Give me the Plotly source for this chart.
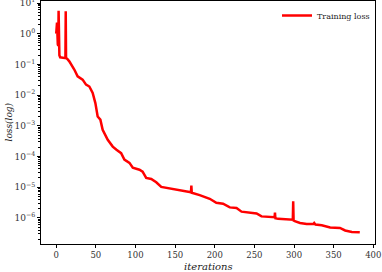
import plotly.graph_objects as go

# iteration positions and training loss values
iterations = [0, 1, 2, 2.6, 3, 3.4, 4, 5, 7, 9, 11, 11.6, 12, 12.4, 14,
              16.5, 22.8, 27, 33.3, 37.6, 41.8, 46, 49.4, 52.3, 55.7, 58.6,
              65, 71.3, 76, 81.9, 86, 92.4, 96.6, 105, 109, 113.5, 119.9,
              126.2, 132.5, 143, 151.5, 160, 168, 170, 170.5, 171, 181,
              193.7, 202, 210.5, 219, 227.5, 233.8, 244, 252.8, 259, 273.8,
              275.5, 276, 276.5, 280, 295, 298.5, 299, 299.5, 301, 307.6,
              316, 324.4, 325.5, 327, 335, 345.6, 358, 364.5, 373, 383]
loss = [1.0, 2.3, 0.45, 0.4, 5.6, 0.3, 0.2, 0.17, 0.165, 0.165, 0.16, 0.16,
        5.4, 0.16, 0.15,
        0.126, 0.068, 0.041, 0.032, 0.022, 0.019, 0.0117, 0.0055, 0.0020,
        0.00158, 0.00074, 0.00035, 0.00021, 0.000165, 0.000129, 0.000079,
        0.000062, 0.000043, 0.000037, 0.000032, 0.000020, 0.0000186,
        0.0000145, 0.0000102, 0.0000091, 0.0000079, 0.0000074, 0.0000069,
        0.0000068, 0.0000114, 0.0000066, 0.0000055,
        0.0000042, 0.0000031, 0.0000029, 0.0000022, 0.0000021, 0.0000016,
        0.0000015, 0.0000014, 0.00000112, 0.00000107,
        0.00000105, 0.0000015, 0.00000097, 0.00000093, 0.00000087,
        0.00000087, 0.0000035, 0.00000082, 0.00000078, 0.00000068,
        0.00000063, 0.00000063, 0.00000068, 0.00000061, 0.00000058,
        0.00000049, 0.00000047, 0.00000039, 0.00000035, 0.00000034]

x_ticks = [0, 50, 100, 150, 200, 250, 300, 350, 400]
y_exponents = [-6, -5, -4, -3, -2, -1, 0, 1]

y_tickvals = [10.0 ** e for e in y_exponents]
y_ticktext = ["10<sup>%s</sup>" % (str(e).replace("-", "\u2212")) for e in y_exponents]
y_minor = [m * 10.0 ** e for e in range(-7, 2) for m in range(2, 10)]

FONT = "DejaVu Serif"

fig = go.Figure()
fig.add_trace(go.Scatter(
    x=iterations, y=loss, mode="lines", name="Training loss",
    line=dict(color="#ff0000", width=2.5)))

fig.update_layout(
    width=382, height=272,
    margin=dict(l=41, r=7, t=1, b=28, autoexpand=False),
    paper_bgcolor="white", plot_bgcolor="white",
    font=dict(family=FONT, size=9, color="#222"),
    showlegend=True,
    legend=dict(x=1.0, y=1.0, xanchor="right", yanchor="top",
                bgcolor="rgba(255,255,255,0)", font=dict(size=8, family=FONT),
                itemwidth=30, tracegroupgap=0),
    annotations=[
        dict(text="<i>iterations</i>", xref="paper", yref="paper",
             x=0.5, y=0, yshift=-22, xanchor="center", yanchor="middle",
             showarrow=False, font=dict(size=10, family=FONT, color="#222")),
        dict(text="<i>loss(log)</i>", xref="paper", yref="paper",
             x=0, y=0.5, xshift=-33, xanchor="center", yanchor="middle",
             textangle=-90, showarrow=False,
             font=dict(size=9, family=FONT, color="#222")),
    ],
)
fig.update_xaxes(
    range=[-19.2, 402.2], tickvals=x_ticks, ticktext=[str(v) for v in x_ticks],
    automargin=False, ticklabeloverflow="allow",
    showgrid=False, zeroline=False, showline=True, linecolor="black",
    linewidth=1, mirror=True, ticks="outside", ticklen=3, tickcolor="black",
    tickfont=dict(size=8.5, family=FONT, color="#333"),
)
fig.update_yaxes(
    type="log", range=[-6.85, 1.065], tickvals=y_tickvals, ticktext=y_ticktext,
    automargin=False, ticklabeloverflow="allow",
    showgrid=False, zeroline=False, showline=True, linecolor="black",
    linewidth=1, mirror=True, ticks="outside", ticklen=3, tickcolor="black",
    tickfont=dict(size=9, family=FONT, color="#333"),
    minor=dict(tickvals=y_minor, ticks="outside", ticklen=2,
               tickcolor="black", showgrid=False),
)

fig.write_html("out.html", config={"displayModeBar": False},
               post_script="document.body.style.margin='0px';")
